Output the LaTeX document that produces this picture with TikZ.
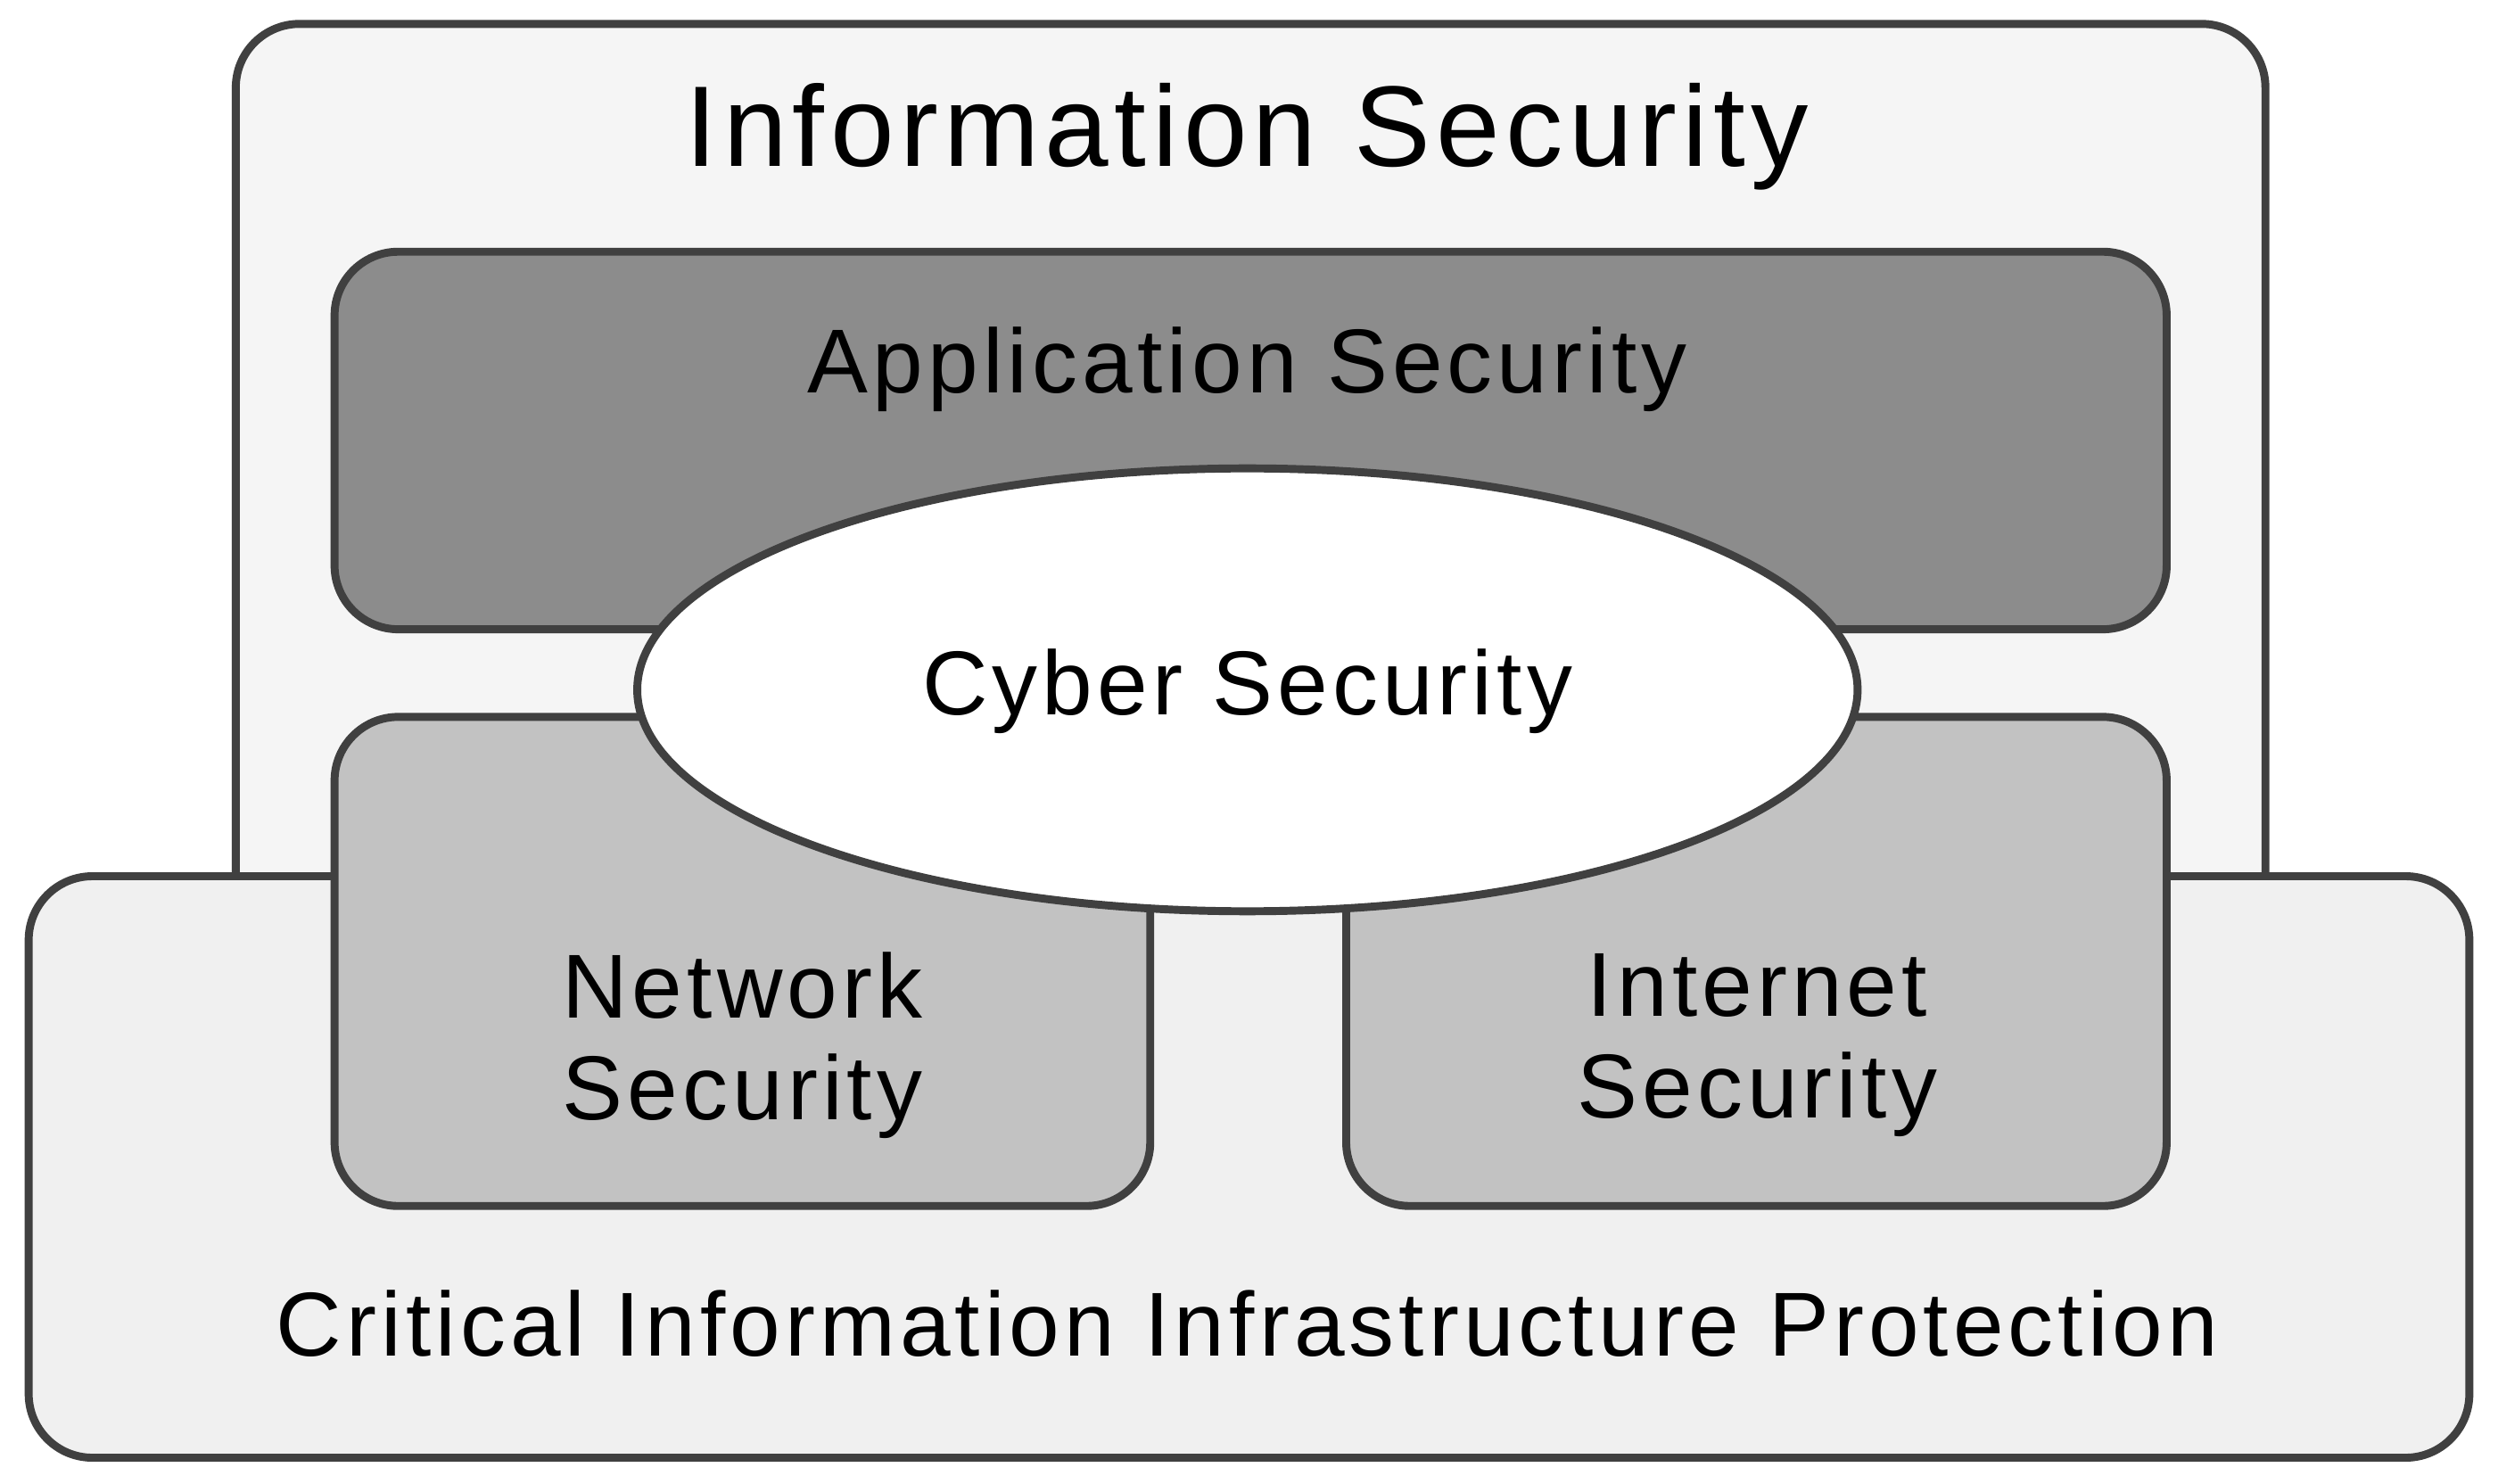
\documentclass[tikz,border=0pt]{standalone}
\usepackage{fontspec}
\setmainfont{Liberation Sans}[LetterSpace=5]
\usetikzlibrary{shapes.geometric}
\begin{document}
\begin{tikzpicture}[x=1pt,y=-1pt,
 box/.style={draw=black!75,line width=5pt,rounded corners=40pt},
 lbl/.style={font=\fontsize{57}{64}\selectfont,align=center,text=black}]
\useasboundingbox (0,0) rectangle (1568,931);
\fill[white] (0,0) rectangle (1568,931);
\draw[box,fill=black!4] (148,15) rectangle (1422,600);
\node[lbl,font=\fontsize{72}{80}\selectfont] (is) at (783,86) {Information Security};
\draw[box,fill=black!6] (18,550) rectangle (1550,915);
\node[lbl] (ciip) at (783,831) {Critical Information Infrastructure Protection};
\draw[box,fill=black!45] (210,158) rectangle (1360,395);
\node[lbl] (app) at (783,232) {Application Security};
\draw[box,fill=black!24] (210,450) rectangle (722,757);
\node[lbl] (net) at (466,656) {Network\\Security};
\draw[box,fill=black!24] (845,450) rectangle (1360,757);
\node[lbl] (int) at (1103,656) {Internet\\Security};
\node[ellipse,draw=black!75,line width=5pt,fill=white,minimum width=766pt,minimum height=278pt] (cy) at (783,433) {};
\node[lbl] (cyt) at (783,434) {Cyber Security};
\end{tikzpicture}
\end{document}
